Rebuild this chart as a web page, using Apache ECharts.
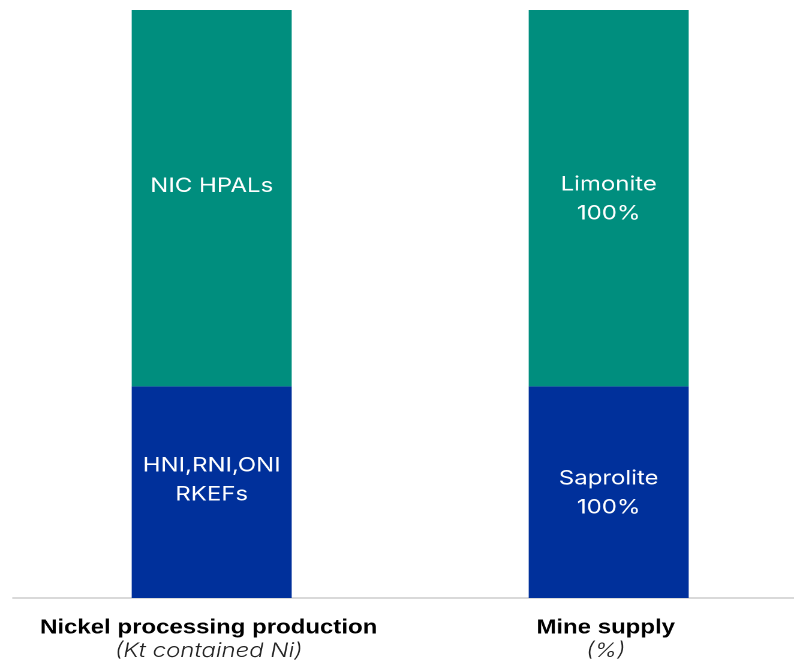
<!DOCTYPE html>
<html><head><meta charset="utf-8">
<script src="https://cdn.jsdelivr.net/npm/echarts@6/dist/echarts.min.js"></script>
<style>html,body{margin:0;padding:0;background:#fff;overflow:hidden;width:794px;height:663px}
#c{width:673px;height:663px;transform:scaleX(1.1994);transform-origin:0 0}</style>
</head><body><div id="c"></div>
<script>
const categories = ['Nickel processing production', 'Mine supply'];
const subtitles = ['(Kt contained Ni)', '(%)'];
const bottomValues = [36, 36];
const topValues = [64, 64];
const bottomLabels = ['HNI,RNI,ONI\nRKEFs', 'Saprolite\n100%'];
const topLabels = ['NIC HPALs', 'Limonite\n100%'];
const bottomOffsets = [[0, -12], [0, 1]];
const topOffsets = [[0, -12], [0, 1]];

const chart = echarts.init(document.getElementById('c'), null, {devicePixelRatio: 2});
const lbl = {show: true, position: 'inside', color: '#fff', fontFamily: 'Inter', fontSize: 20, lineHeight: 29};
chart.setOption({
  animation: false,
  grid: {left: 11, right: 0, top: 10, bottom: 65},
  xAxis: {
    type: 'category', data: categories,
    axisLine: {lineStyle: {color: '#d9d9d9', width: 2}},
    axisTick: {show: false},
    axisLabel: {
      margin: 18, interval: 0, padding: [0, 5, 0, 0],
      formatter: (v, i) => '{b|' + v + '}\n{i|' + subtitles[i] + '}',
      rich: {
        b: {fontFamily: 'Liberation Sans', fontWeight: 'bold', fontSize: 20, color: '#000', lineHeight: 24},
        i: {fontFamily: 'Inter', fontStyle: 'italic', fontWeight: 300, fontSize: 20, color: '#222', lineHeight: 22}
      }
    }
  },
  yAxis: {type: 'value', min: 0, max: 100, show: false, splitLine: {show: false}},
  series: [
    {type: 'bar', stack: 's', barWidth: 133.4, itemStyle: {color: '#00309B'},
     data: bottomValues.map((v, i) => ({value: v, label: Object.assign({}, lbl, {formatter: bottomLabels[i], offset: bottomOffsets[i]})}))},
    {type: 'bar', stack: 's', barWidth: 133.4, itemStyle: {color: '#008E7E'},
     data: topValues.map((v, i) => ({value: v, label: Object.assign({}, lbl, {formatter: topLabels[i], offset: topOffsets[i]})}))}
  ]
});
</script></body></html>
